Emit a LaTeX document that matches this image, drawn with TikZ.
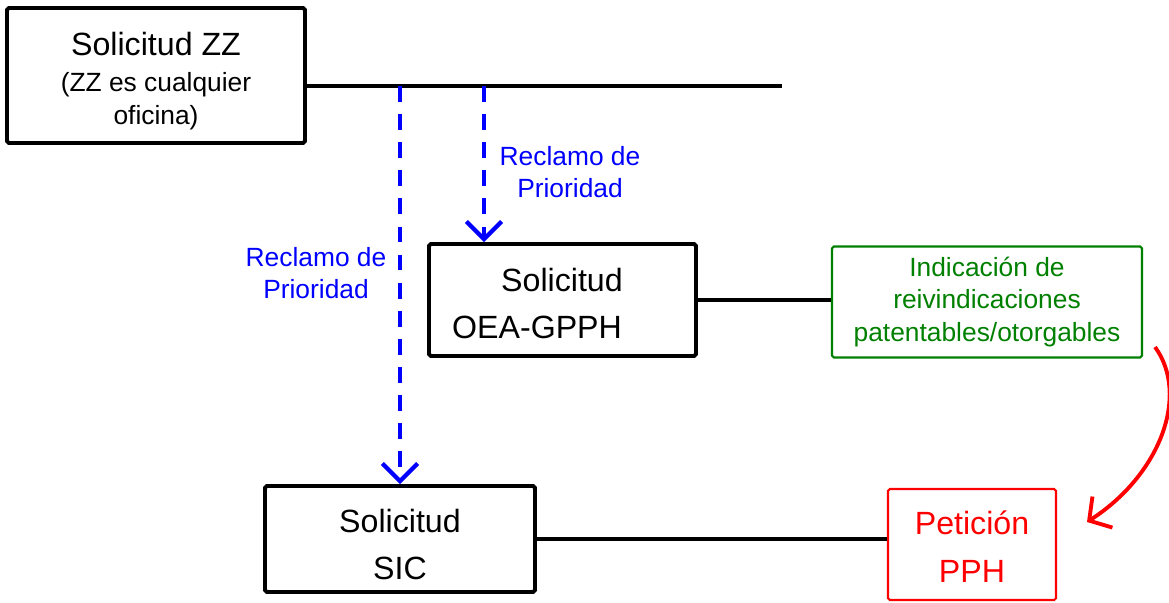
\documentclass[tikz,border=0pt]{standalone}
\usepackage{fontspec}
\setmainfont{Liberation Sans}
\usetikzlibrary{arrows.meta}

\definecolor{azul}{RGB}{0,0,255}
\definecolor{verde}{RGB}{0,128,0}
\definecolor{rojo}{RGB}{255,0,0}

\tikzset{
    caja/.style={draw, line width=2.2pt, rounded corners=1pt},
    cajafina/.style={draw, line width=1.2pt, rounded corners=1pt},
    grande/.style={font=\fontsize{18.3}{22}\selectfont},
    chico/.style={font=\fontsize{15}{18.5}\selectfont, align=center},
    reclamo/.style={azul, dash pattern=on 9pt off 7pt, line width=2.4pt,
        -{Straight Barb[length=10pt, width=20pt, line width=2.4pt]}},
}

\begin{document}
\begin{tikzpicture}[x=0.02cm, y=-0.02cm] %Esquema PPH
    \useasboundingbox (0,0) rectangle (1169,602);

    % cajas
    \node[caja, minimum width=5.96cm, minimum height=2.7cm] (zz) at (156,75.5) {};
    \node[grande] (zzt) at (156,44) {Solicitud ZZ};
    \node[chico] (zzs) at (156,101) {(ZZ es cualquier\\oficina)};

    \node[caja, minimum width=5.34cm, minimum height=2.24cm] (oea) at (562.5,300) {};
    \node[grande] (oeat) at (562,280) {Solicitud};
    \node[grande] (oeas) at (537,327) {OEA-GPPH};

    \node[caja, minimum width=5.4cm, minimum height=2.12cm] (sic) at (400,539) {};
    \node[grande] (sict) at (400,521) {Solicitud};
    \node[grande] (sics) at (400,568) {SIC};

    \node[cajafina, verde, minimum width=6.2cm, minimum height=2.22cm,
        chico, text=verde] (ind) at (987,302)
        {Indicación de\\reivindicaciones\\patentables/otorgables};

    \node[cajafina, rojo, minimum width=3.36cm, minimum height=2.22cm] (pet) at (972,544.5) {};
    \node[grande, text=rojo] (pett) at (972,523) {Petición};
    \node[grande, text=rojo] (pets) at (972,571) {PPH};

    % lineas
    \coordinate (fin) at (782,86);
    \coordinate (r1) at (400,86);
    \coordinate (r2) at (484,86);
    \draw[line width=2pt] (zz.east |- fin) -- (fin);
    \draw[line width=2pt] (oea.east) -- (ind.west |- oea.east);
    \draw[line width=2pt] (sic.east) -- (pet.west |- sic.east);

    % reclamos de prioridad
    \draw[reclamo] (r1) -- (sic.north -| r1);
    \draw[reclamo] (r2) -- (oea.north -| r2);
    \node[chico, text=azul] (rec1) at (570,172) {Reclamo de\\Prioridad};
    \node[chico, text=azul] (rec2) at (316,273) {Reclamo de\\Prioridad};

    % flecha roja
    \coordinate (p1) at (1155,347);
    \coordinate (p2) at (1087,522);
    \draw[rojo, line width=2.2pt, -{Straight Barb[length=9pt, width=21pt, line width=2.2pt]}]
        (p1) .. controls (1190,395) and (1160,475) .. (p2);
\end{tikzpicture}
\end{document}
